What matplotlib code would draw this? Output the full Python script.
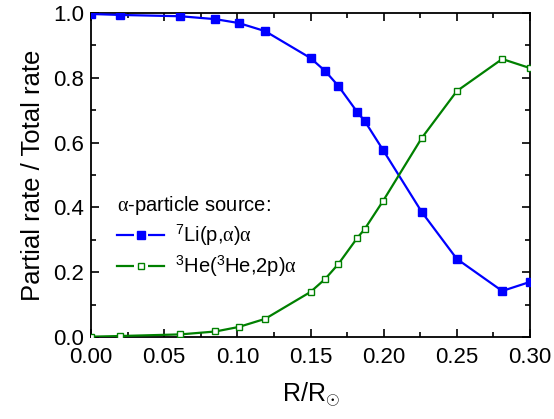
import numpy as np
import matplotlib
matplotlib.use('Agg')
import matplotlib.pyplot as plt
from matplotlib.ticker import MultipleLocator
from matplotlib.lines import Line2D
from matplotlib.legend_handler import HandlerTuple

plt.rcParams['font.family'] = ['Liberation Sans', 'DejaVu Sans']
plt.rcParams['mathtext.fontset'] = 'custom'
plt.rcParams['mathtext.rm'] = 'Liberation Sans'
plt.rcParams['mathtext.it'] = 'Liberation Serif'
plt.rcParams['mathtext.bf'] = 'Liberation Sans:bold'

# 数据: 半径 R/R_sun 以及两种 alpha 粒子来源的占比
r = [0.0, 0.0198, 0.061, 0.085, 0.101, 0.119, 0.150, 0.160, 0.169,
     0.182, 0.187, 0.1996, 0.226, 0.250, 0.281, 0.300]
li7 = [0.997, 0.994, 0.990, 0.981, 0.969, 0.944, 0.861, 0.821, 0.775,
       0.694, 0.667, 0.577, 0.386, 0.241, 0.142, 0.170]
he3 = [0.001, 0.003, 0.008, 0.017, 0.031, 0.056, 0.139, 0.179, 0.225,
       0.306, 0.333, 0.420, 0.614, 0.759, 0.858, 0.830]

blue = '#0000ff'
green = '#008000'

fig = plt.figure(figsize=(5.54, 4.19), dpi=100)
ax = fig.add_axes([91/554, 82/419, 439/554, 324/419])

ax.plot(r, li7, '-', color=blue, lw=1.6, marker='s', ms=5.2,
        mfc=blue, mec=blue, zorder=3)
ax.plot(r, he3, '-', color=green, lw=1.6, marker='s', ms=5.0,
        mfc='white', mec=green, mew=1.0, zorder=3)

ax.set_xlim(0, 0.30)
ax.set_ylim(0, 1.0)
ax.xaxis.set_major_locator(MultipleLocator(0.05))
ax.xaxis.set_minor_locator(MultipleLocator(0.025))
ax.yaxis.set_major_locator(MultipleLocator(0.2))
ax.yaxis.set_minor_locator(MultipleLocator(0.1))
ax.xaxis.set_major_formatter(plt.FormatStrFormatter('%.2f'))
ax.yaxis.set_major_formatter(plt.FormatStrFormatter('%.1f'))

ax.tick_params(which='both', direction='in', top=True, right=True,
               width=1.2, labelsize=16)
ax.tick_params(which='major', length=6)
ax.tick_params(which='minor', length=3.5)
ax.tick_params(axis='x', which='major', pad=7)
ax.tick_params(axis='y', which='major', pad=5)
for s in ax.spines.values():
    s.set_linewidth(1.3)

ax.set_xlabel(r'R/R$_{\odot}$', fontsize=18, labelpad=9)
ax.set_ylabel('Partial rate / Total rate', fontsize=18.5, labelpad=6)

# 图例: 线段在方块两侧断开 (用白色方块遮住中间一段)
def legend_handle(color, face, ms, mew):
    line = Line2D([], [], color=color, lw=1.6)
    mask = Line2D([], [], ls='none', marker='s', ms=ms + 4.5,
                  mfc='white', mec='white', mew=0)
    mark = Line2D([], [], ls='none', marker='s', ms=ms,
                  mfc=face, mec=color, mew=mew)
    return (line, mask, mark)

h1 = legend_handle(blue, blue, 5.2, 1.0)
h2 = legend_handle(green, 'white', 5.0, 1.0)
leg = ax.legend([h1, h2],
                [r'$^{7}$Li(p,$\alpha$)$\alpha$',
                 r'$^{3}$He($^{3}$He,2p)$\alpha$'],
                handler_map={tuple: HandlerTuple(ndivide=1, pad=0)},
                loc='upper left', bbox_to_anchor=(0.027, 0.485), frameon=False,
                title=r'$\alpha$-particle source:', fontsize=14.5,
                title_fontsize=14.5, handlelength=2.35, handletextpad=0.55,
                labelspacing=0.3, borderpad=0.2, numpoints=1)
leg._legend_box.align = 'left'

fig.savefig('out.png', dpi=100)
